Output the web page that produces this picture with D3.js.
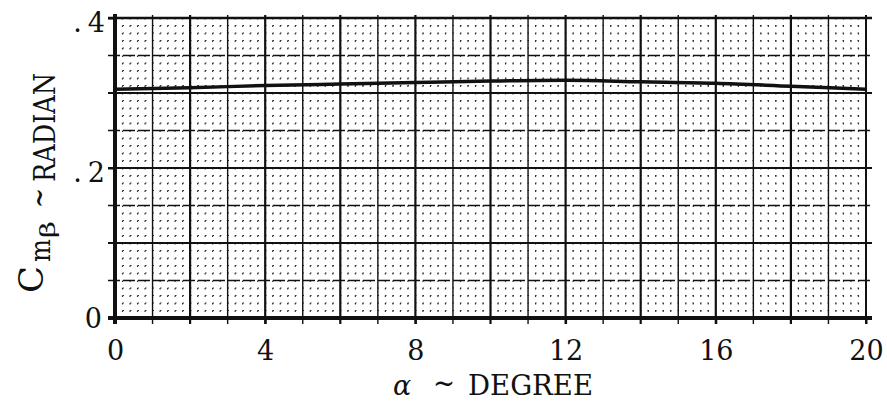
<!DOCTYPE html>
<html>
<head>
<meta charset="utf-8">
<script src="https://cdn.jsdelivr.net/npm/d3@7"></script>
<style>
  body { margin: 0; background: #fff; }
  svg { display: block; }
  text { font-family: "DejaVu Serif", "Liberation Serif", serif; fill: #111; }
</style>
</head>
<body>
<svg id="chart" width="887" height="402"></svg>
<script>
// curve
const alphaDeg = [0, 2, 4, 6, 8, 10, 12, 14, 16, 18, 20];
const cmBeta = [0.305, 0.307, 0.310, 0.312, 0.314, 0.316, 0.317, 0.315, 0.313, 0.309, 0.305];

const xTicks = [0, 4, 8, 12, 16, 20];
const yTicks = [0, 0.2, 0.4];
const yTickLabels = ["0", ".2", ".4"];

const width = 887, height = 402;
const margin = { top: 18, right: 21, bottom: 84, left: 115 };

const svg = d3.select("#chart");
const innerW = width - margin.left - margin.right;
const innerH = height - margin.top - margin.bottom;
const g = svg.append("g").attr("transform", `translate(${margin.left},${margin.top})`);

const x = d3.scaleLinear().domain([0, 20]).range([0, innerW]);
const y = d3.scaleLinear().domain([0, 0.4]).range([innerH, 0]);

// fine dotted grid (every 0.2 deg, every 0.01)
const fineX = d3.range(0, 20.001, 0.2).filter(v => Math.abs(v - Math.round(v)) > 1e-6);
const fineY = d3.range(0, 0.4001, 0.01).filter(v => Math.abs(v * 20 - Math.round(v * 20)) > 1e-6);

g.append("g").selectAll("line").data(fineX).enter().append("line")
  .attr("x1", d => x(d)).attr("x2", d => x(d))
  .attr("y1", 0).attr("y2", innerH)
  .style("stroke", "#333").style("stroke-width", 1.2)
  .style("stroke-dasharray", "1.5,6");

g.append("g").selectAll("line").data(fineY).enter().append("line")
  .attr("y1", d => y(d)).attr("y2", d => y(d))
  .attr("x1", 0).attr("x2", innerW)
  .style("stroke", "#333").style("stroke-width", 1.2)
  .style("stroke-dasharray", "1.5,6");

// minor grid (every 1 deg, every 0.05)
const gridX = d3.range(1, 20, 1);
g.append("g").selectAll("line").data(gridX).enter().append("line")
  .attr("x1", d => x(d)).attr("x2", d => x(d))
  .attr("y1", -3).attr("y2", innerH + 6)
  .style("stroke", "#111")
  .style("stroke-width", d => d % 2 === 0 ? 2.2 : 1.4);

const gridY = d3.range(0.05, 0.4, 0.05);
g.append("g").selectAll("line").data(gridY).enter().append("line")
  .attr("y1", d => y(d)).attr("y2", d => y(d))
  .attr("x1", -7).attr("x2", innerW + 6)
  .style("stroke", "#111")
  .style("stroke-width", (d, i) => i % 2 === 1 ? 2 : 1.5)
  .style("stroke-dasharray", (d, i) => i % 2 === 1 ? null : "12,3");

// frame
g.append("line").attr("x1", -7).attr("x2", innerW + 6).attr("y1", y(0.4)).attr("y2", y(0.4))
  .style("stroke", "#111").style("stroke-width", 2.5);
g.append("line").attr("x1", x(20)).attr("x2", x(20)).attr("y1", -3).attr("y2", innerH + 6)
  .style("stroke", "#111").style("stroke-width", 2);

// axes
const xAxis = g.append("g")
  .attr("transform", `translate(0,${innerH})`)
  .call(d3.axisBottom(x).tickValues(xTicks).tickFormat(d3.format("d")).tickSize(6).tickPadding(17));
xAxis.select(".domain").remove();
xAxis.selectAll("line").style("stroke", "#111").style("stroke-width", 2);
xAxis.selectAll("text").style("font-size", "27px").style("font-family", "DejaVu Serif, serif").style("fill", "#111");

const yAxis = g.append("g")
  .call(d3.axisLeft(y).tickValues(yTicks).tickFormat((d, i) => yTickLabels[i]).tickSize(7).tickPadding(8));
yAxis.select(".domain").remove();
yAxis.selectAll("line").style("stroke", "#111").style("stroke-width", 2);
yAxis.selectAll("text")
  .style("font-size", "27px").style("font-family", "DejaVu Serif, serif").style("fill", "#111")
  .attr("dy", (d, i) => i === 0 ? "0.36em" : "0.5em")
  .each(function (d, i) {
    const label = yTickLabels[i];
    const t = d3.select(this).text(null);
    if (label.startsWith(".")) {
      t.attr("x", -10);
      t.append("tspan").text(".");
      t.append("tspan").attr("dx", 6).text(label.slice(1));
    } else {
      t.attr("x", -13).text(label);
    }
  });

// heavy zero lines
g.append("line").attr("x1", -7).attr("x2", innerW + 6).attr("y1", y(0)).attr("y2", y(0))
  .style("stroke", "#111").style("stroke-width", 4);
g.append("line").attr("x1", x(0)).attr("x2", x(0)).attr("y1", -4).attr("y2", innerH + 6)
  .style("stroke", "#111").style("stroke-width", 4);

// curve
const line = d3.line().curve(d3.curveMonotoneX)
  .x((d, i) => x(alphaDeg[i]))
  .y(d => y(d));
g.append("path").datum(cmBeta)
  .attr("d", line)
  .style("fill", "none").style("stroke", "#111").style("stroke-width", 3.5);

// x axis title
const xt = svg.append("text").attr("y", 395).style("font-size", "27px");
xt.append("tspan").attr("x", 393).style("font-style", "italic").text("α");
xt.append("tspan").attr("x", 433).attr("dy", -2).style("font-size", "30px")
  .attr("textLength", 22).attr("lengthAdjust", "spacingAndGlyphs").text("~");
xt.append("tspan").attr("x", 468).attr("dy", 2).attr("textLength", 125).attr("lengthAdjust", "spacingAndGlyphs").text("DEGREE");

// y axis title (rotated, text runs upward)
const yt = svg.append("text").attr("transform", "rotate(-90)");
yt.append("tspan").attr("x", -293).attr("y", 43).style("font-size", "34px")
  .attr("textLength", 27).attr("lengthAdjust", "spacingAndGlyphs").text("C");
yt.append("tspan").attr("x", -262).attr("y", 50).style("font-size", "28px")
  .attr("textLength", 23).attr("lengthAdjust", "spacingAndGlyphs").text("m");
yt.append("tspan").attr("x", -238).attr("y", 55).style("font-size", "21px")
  .attr("textLength", 17).attr("lengthAdjust", "spacingAndGlyphs").text("β");
yt.append("tspan").attr("x", -208).attr("y", 50).style("font-size", "34px")
  .attr("textLength", 20).attr("lengthAdjust", "spacingAndGlyphs").text("~");
yt.append("tspan").attr("x", -182).attr("y", 55).style("font-size", "30px")
  .attr("textLength", 109).attr("lengthAdjust", "spacingAndGlyphs").text("RADIAN");
</script>
</body>
</html>
